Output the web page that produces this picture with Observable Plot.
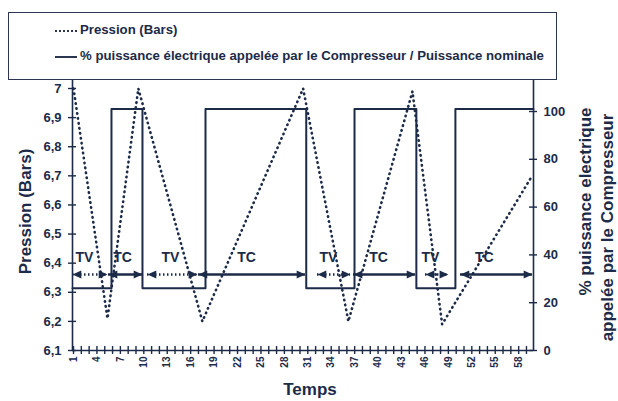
<!DOCTYPE html>
<html><head><meta charset="utf-8">
<script src="https://cdn.jsdelivr.net/npm/d3@7"></script>
<script src="https://cdn.jsdelivr.net/npm/@observablehq/plot@0.6"></script>
<style>
body{margin:0;background:#fff;font-family:"Liberation Sans",Arial,sans-serif;}
#wrap{position:relative;width:618px;height:401px;overflow:hidden;background:#fff}
#chart{position:absolute;left:0;top:0}
#legend{position:absolute;left:8px;top:12px;width:549px;height:68px;border:1.5px solid #2b3650;box-sizing:border-box;background:#fff;z-index:2}
.row{position:absolute;left:71px;font-weight:bold;font-size:13.2px;line-height:16px;color:#1c2b48;white-space:nowrap}
.sample{position:absolute;left:-25px;width:22px;top:8px}
</style></head>
<body>
<div id="wrap">
  <div id="chart"></div>
  <div id="legend">
    <div class="row" style="top:9px"><span class="sample" style="border-top:2px dotted #2b3650"></span>Pression (Bars)</div>
    <div class="row" style="top:35px"><span class="sample" style="border-top:2px solid #2b3650"></span>% puissance électrique appelée par le Compresseur / Puissance nominale</div>
  </div>
</div>
<script>
// ---- data ----
const pressureTime  = [1, 5.35, 9.3, 17.5, 30.4, 36.2, 44.4, 48.2, 59.5];
const pressureValue = [7.0, 6.21, 7.0, 6.2, 7.0, 6.2, 6.99, 6.19, 6.69];

const powerTime  = [0.87, 5.86, 9.83, 17.9, 30.8, 36.98, 44.9, 49.9, 59.9];
const powerValue = [26, 101, 26, 101, 26, 101, 26, 101, 101];

const phaseLabel = ["TV", "TC", "TV", "TC", "TV", "TC", "TV", "TC"];
const phaseStart = [0.87, 5.48, 10.47, 17.0, 32.24, 36.85, 46.07, 50.55];
const phaseEnd   = [5.35, 9.83, 16.87, 30.7, 36.47, 44.8, 49.0, 59.77];
const phaseText  = [2.4, 7.27, 13.4, 23.15, 33.65, 40.05, 46.7, 53.6];

const leftTicks  = [6.1, 6.2, 6.3, 6.4, 6.5, 6.6, 6.7, 6.8, 6.9, 7.0];
const leftLabels = ["6,1", "6,2", "6,3", "6,4", "6,5", "6,6", "6,7", "6,8", "6,9", "7"];
const rightTicks = [0, 20, 40, 60, 80, 100];
const xTicks = d3.range(1, 60);
const xLabels = [1, 4, 7, 10, 13, 16, 19, 22, 25, 28, 31, 34, 37, 40, 43, 46, 49, 52, 55, 58];

// ---- layout ----
const navy = "#1c2b48";
const xDomain = [0.87, 59.9];
const yDomain = [6.1, 7.0275];
const pctToBar = p => 6.1 + p * (6.921 - 6.1) / 100;
const arrowY = 6.361, labelY = 6.419;

const pressure = pressureTime.map((t, i) => ({t, v: pressureValue[i]}));
const power = powerTime.map((t, i) => ({t, v: pctToBar(powerValue[i])}));
const phases = phaseLabel.map((l, i) => ({l, s: phaseStart[i], e: phaseEnd[i], m: phaseText[i]}));

const leftHead = {draw(c, size) { const r = Math.sqrt(size / Math.PI); c.moveTo(0, 0); c.lineTo(2.2 * r, -r); c.lineTo(2.2 * r, r); c.closePath(); }};
const rightHead = {draw(c, size) { const r = Math.sqrt(size / Math.PI); c.moveTo(0, 0); c.lineTo(-2.2 * r, -r); c.lineTo(-2.2 * r, r); c.closePath(); }};

const font = {fontFamily: "Liberation Sans, Arial, sans-serif", fontWeight: "bold", fill: navy};

const chart = Plot.plot({
  width: 618, height: 401,
  marginLeft: 72, marginRight: 85, marginTop: 80, marginBottom: 51,
  style: {background: "transparent", overflow: "visible"},
  x: {domain: xDomain, axis: null},
  y: {domain: yDomain, axis: null},
  marks: [
    // axis lines
    Plot.ruleX([xDomain[0], xDomain[1]], {y1: yDomain[0], y2: yDomain[1], stroke: navy, strokeWidth: 1.6}),
    Plot.ruleY([yDomain[0]], {x1: xDomain[0], x2: xDomain[1], stroke: navy, strokeWidth: 1.6}),
    // cross ticks
    Plot.ruleY(leftTicks, {y: d => d, x1: xDomain[0], x2: xDomain[0], insetLeft: -4, insetRight: -4, stroke: navy, strokeWidth: 1.4}),
    Plot.ruleY(rightTicks, {y: d => pctToBar(d), x1: xDomain[1], x2: xDomain[1], insetLeft: -4, insetRight: -4, stroke: navy, strokeWidth: 1.4}),
    Plot.ruleX(xTicks, {x: d => d, y1: yDomain[0], y2: yDomain[0], insetTop: -4, insetBottom: -4, stroke: navy, strokeWidth: 1.4}),
    // tick labels
    Plot.text(leftTicks, {y: d => d, text: (d, i) => leftLabels[i], frameAnchor: "left", dx: -11, textAnchor: "end", fontSize: 13, ...font}),
    Plot.text(rightTicks, {y: d => pctToBar(d), text: d => String(d), frameAnchor: "right", dx: 10, textAnchor: "start", fontSize: 13, ...font}),
    Plot.text(xLabels, {x: d => d, text: d => String(d), frameAnchor: "bottom", dy: 6, rotate: -90, textAnchor: "end", lineAnchor: "middle", fontSize: 10, ...font}),
    // axis titles
    Plot.text(["Pression (Bars)"], {frameAnchor: "left", dx: -47, dy: -4, rotate: -90, textAnchor: "middle", lineAnchor: "middle", fontSize: 17, ...font}),
    Plot.text(["% puissance electrique"], {frameAnchor: "right", dx: 52, dy: -14, rotate: -90, textAnchor: "middle", lineAnchor: "middle", fontSize: 17, ...font}),
    Plot.text(["appelée par le Compresseur"], {frameAnchor: "right", dx: 74, dy: 12, rotate: -90, textAnchor: "middle", lineAnchor: "middle", fontSize: 17, ...font}),
    Plot.text(["Temps"], {frameAnchor: "bottom", dx: 7, dy: 39, textAnchor: "middle", lineAnchor: "middle", fontSize: 17, ...font}),
    // data
    Plot.line(pressure, {x: "t", y: "v", stroke: navy, strokeWidth: 2.6, strokeDasharray: "0.5,4.5", strokeLinecap: "round"}),
    Plot.line(power, {x: "t", y: "v", curve: "step-after", stroke: navy, strokeWidth: 2}),
    // phase arrows
    Plot.ruleY(phases.filter(p => p.l === "TV"), {x1: "s", x2: "e", y: () => arrowY, stroke: navy, strokeWidth: 2.4, strokeDasharray: "1.5,2.5"}),
    Plot.ruleY(phases.filter(p => p.l === "TC"), {x1: "s", x2: "e", y: () => arrowY, stroke: navy, strokeWidth: 2.4}),
    Plot.dot(phases, {x: "s", y: () => arrowY, symbol: leftHead, r: 4, fill: navy, stroke: "none"}),
    Plot.dot(phases, {x: "e", y: () => arrowY, symbol: rightHead, r: 4, fill: navy, stroke: "none"}),
    Plot.text(phases, {x: "m", y: () => labelY, text: "l", fontSize: 14, ...font})
  ]
});
document.getElementById("chart").appendChild(chart);
</script>
</body></html>
